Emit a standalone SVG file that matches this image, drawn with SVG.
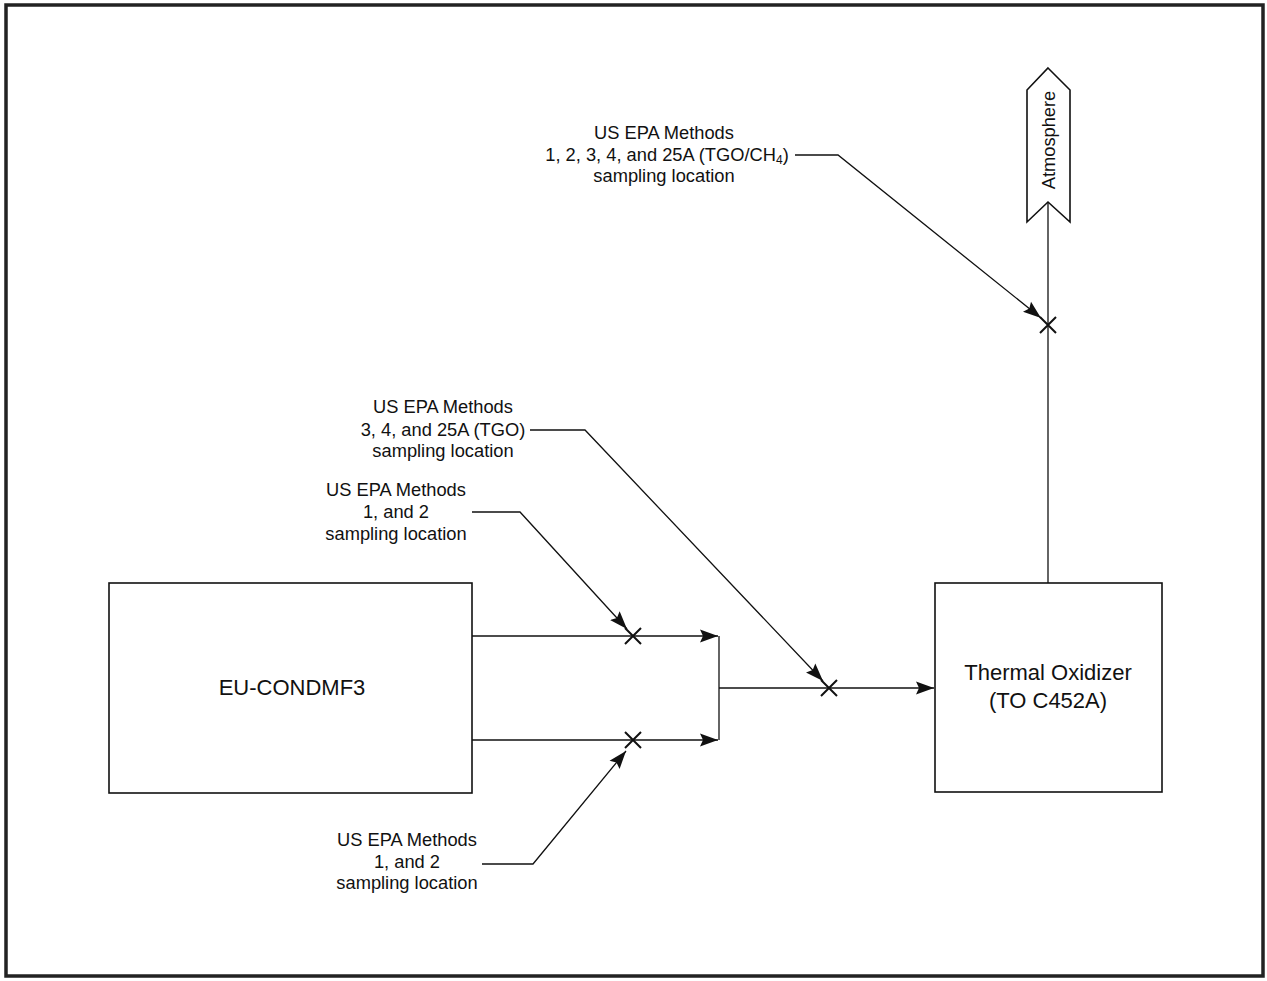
<svg xmlns="http://www.w3.org/2000/svg" width="1267" height="981" viewBox="0 0 1267 981">
<style>
.ln{fill:none;stroke:#111;stroke-width:1.3}
.bx{fill:#fff;stroke:#111;stroke-width:1.6}
.x{stroke:#111;stroke-width:2;fill:none}
.lb{font-family:"Liberation Sans",Arial,sans-serif;font-size:18.3px;fill:#111;text-anchor:middle}
.big{font-family:"Liberation Sans",Arial,sans-serif;font-size:22px;fill:#111;text-anchor:middle}
</style>
<defs>
<marker id="ah" markerWidth="19" markerHeight="14" refX="18" refY="7" orient="auto" markerUnits="userSpaceOnUse">
<path d="M0,0.5 L18,7 L0,13.5 L3,7 Z" fill="#111"/>
</marker>
</defs>
<rect x="0" y="0" width="1267" height="981" fill="#fff"/>
<rect x="6" y="5" width="1257" height="971" fill="none" stroke="#222" stroke-width="3.5"/>
<g id="connectors">
<path class="ln" d="M472,636 H718" marker-end="url(#ah)"/>
<path class="ln" d="M472,740 H718" marker-end="url(#ah)"/>
<path class="ln" d="M719,636 V740"/>
<path class="ln" d="M719,688 H934" marker-end="url(#ah)"/>
<path class="ln" d="M1048,583 V202"/>
<path class="ln" d="M795,155 H838 L1041,318" marker-end="url(#ah)"/>
<path class="ln" d="M530,430 H585 L823,681" marker-end="url(#ah)"/>
<path class="ln" d="M472,512 H520 L627,629" marker-end="url(#ah)"/>
<path class="ln" d="M482,864 H533 L626,751" marker-end="url(#ah)"/>
</g>
<g id="markers">
<path class="x" d="M1040,317 L1056,333 M1056,317 L1040,333"/>
<path class="x" d="M625,628 L641,644 M641,628 L625,644"/>
<path class="x" d="M625,732 L641,748 M641,732 L625,748"/>
<path class="x" d="M821,680 L837,696 M837,680 L821,696"/>
</g>
<g id="eu-condmf3">
<rect class="bx" x="109" y="583" width="363" height="210"/>
<text class="big" x="292" y="695" font-size="23">EU-CONDMF3</text>
</g>
<g id="thermal-oxidizer">
<rect class="bx" x="935" y="583" width="227" height="209"/>
<text class="big" x="1048" y="680">Thermal Oxidizer</text>
<text class="big" x="1048" y="708">(TO C452A)</text>
</g>
<g id="atmosphere">
<path class="bx" d="M1048,68 L1070,90 L1070,222 L1048,202 L1027,222 L1027,90 Z"/>
<text class="lb" transform="translate(1055,140) rotate(-90)">Atmosphere</text>
</g>
<g id="label-top">
<text class="lb" x="664" y="139">US EPA Methods</text>
<text class="lb" x="667" y="161">1, 2, 3, 4, and 25A (TGO/CH<tspan font-size="12" dy="3">4</tspan><tspan dy="-3">)</tspan></text>
<text class="lb" x="664" y="182">sampling location</text>
</g>
<g id="label-mid">
<text class="lb" x="443" y="413">US EPA Methods</text>
<text class="lb" x="443" y="436">3, 4, and 25A (TGO)</text>
<text class="lb" x="443" y="457">sampling location</text>
</g>
<g id="label-low">
<text class="lb" x="396" y="496">US EPA Methods</text>
<text class="lb" x="396" y="518">1, and 2</text>
<text class="lb" x="396" y="540">sampling location</text>
</g>
<g id="label-bottom">
<text class="lb" x="407" y="846">US EPA Methods</text>
<text class="lb" x="407" y="868">1, and 2</text>
<text class="lb" x="407" y="889">sampling location</text>
</g>
</svg>
